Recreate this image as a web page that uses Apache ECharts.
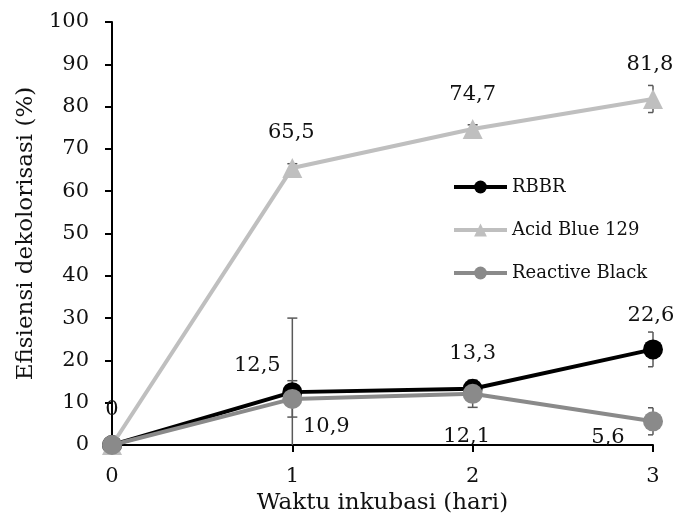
<!DOCTYPE html>
<html>
<head>
<meta charset="utf-8">
<script src="https://cdn.jsdelivr.net/npm/echarts@6/dist/echarts.min.js"></script>
<style>html,body{margin:0;padding:0;background:#fff;}#c{width:678px;height:524px;}</style>
</head>
<body>
<div id="c"></div>
<script>
var days = [0, 1, 2, 3];
var xTicks = ['0', '1', '2', '3'];
var rbbr = [0, 12.5, 13.3, 22.6];
var rbbrErr = [0, 17.5, 1.0, 4.1];
var acidBlue = [0, 65.5, 74.7, 81.8];
var acidBlueErr = [0, 1.0, 1.0, 3.2];
var reactive = [0, 10.9, 12.1, 5.6];
var reactiveErr = [0, 4.3, 3.2, 3.2];
var names = ['RBBR', 'Acid Blue 129', 'Reactive Black'];
var colors = ['#000000', '#bfbfbf', '#8a8a8a'];

var FONT = 'DejaVu Serif';
var TXT = '#111111';
var rbbrOff = [null, [-35, -27], [0, -35], [-2, -34]];
var acidOff = [[0, -35], [-1, -35], [0, -34], [-3, -34]];
var reactOff = [null, [34, 28], [-6, 43], [-45, 16]];

function fmt(v) { return String(v).replace('.', ','); }

function buildData(vals, offs) {
  return days.map(function (d, i) {
    var item = { value: [d, vals[i]] };
    if (offs[i]) {
      item.label = { show: true, position: 'inside', offset: offs[i] };
    } else {
      item.label = { show: false };
    }
    return item;
  });
}
function errData(vals, errs) {
  return days.map(function (d, i) { return [d, vals[i], errs[i]]; });
}

function renderErr(params, api) {
  var x = api.value(0), y = api.value(1), e = api.value(2);
  if (!e) return null;
  var hi = api.coord([x, y + e]);
  var lo = api.coord([x, y - e]);
  var cs = params.coordSys;
  var xmax = cs.x + cs.width;
  var ymax = cs.y + cs.height;
  if (lo[1] > ymax) lo[1] = ymax;
  var w = 5;
  var style = { stroke: '#595959', lineWidth: 1.5 };
  var children = [
    { type: 'line', shape: { x1: hi[0], y1: hi[1], x2: lo[0], y2: lo[1] }, style: style },
    { type: 'line', shape: { x1: hi[0] - w, y1: hi[1], x2: Math.min(hi[0] + w, xmax), y2: hi[1] }, style: style }
  ];
  if (y - e >= 0) {
    children.push({ type: 'line', shape: { x1: lo[0] - w, y1: lo[1], x2: Math.min(lo[0] + w, xmax), y2: lo[1] }, style: style });
  }
  return { type: 'group', children: children };
}

var labelStyle = {
  fontFamily: FONT, fontSize: 21, color: TXT,
  align: 'center', verticalAlign: 'middle',
  formatter: function (p) { return fmt(p.value[1]); }
};

function lineSeries(idx, vals, offs, symbol, size) {
  return {
    name: names[idx], type: 'line', data: buildData(vals, offs),
    symbol: symbol, symbolSize: size, showSymbol: true,
    itemStyle: { color: colors[idx] },
    lineStyle: { color: colors[idx], width: 4 },
    label: labelStyle,
    z: 3 + idx
  };
}

var chart = echarts.init(document.getElementById('c'), null, { renderer: 'canvas' });
chart.setOption({
  animation: false,
  backgroundColor: '#ffffff',
  textStyle: { fontFamily: FONT },
  grid: { left: 112, right: 25, top: 22, bottom: 79, containLabel: false, outerBoundsMode: 'none' },
  legend: {
    data: names, orient: 'vertical', left: 447, top: 173,
    itemWidth: 53, itemHeight: 16, itemGap: 25,
    lineStyle: { width: 4 },
    textStyle: { fontFamily: FONT, fontSize: 18, color: TXT }
  },
  xAxis: {
    type: 'value', min: 0, max: 3, interval: 1,
    name: 'Waktu inkubasi (hari)', nameLocation: 'middle', nameGap: 36,
    nameTextStyle: { fontFamily: FONT, fontSize: 23, color: TXT },
    axisLine: { show: true, lineStyle: { color: '#000', width: 2 } },
    axisTick: { show: true, length: 7, lineStyle: { color: '#000', width: 2 } },
    axisLabel: { fontFamily: FONT, fontSize: 21, color: TXT, margin: 21,
      formatter: function (v) { return xTicks[v]; } },
    splitLine: { show: false }
  },
  yAxis: {
    type: 'value', min: 0, max: 100, interval: 10,
    name: 'Efisiensi dekolorisasi (%)', nameLocation: 'middle', nameGap: 72, nameRotate: 90,
    nameTextStyle: { fontFamily: FONT, fontSize: 23, color: TXT },
    axisLine: { show: true, lineStyle: { color: '#000', width: 2 } },
    axisTick: { show: true, length: 7, lineStyle: { color: '#000', width: 2 } },
    axisLabel: { fontFamily: FONT, fontSize: 21, color: TXT, margin: 23 },
    splitLine: { show: false }
  },
  series: [
    { type: 'custom', renderItem: renderErr, data: errData(rbbr, rbbrErr), z: 1, silent: true },
    { type: 'custom', renderItem: renderErr, data: errData(acidBlue, acidBlueErr), z: 1, silent: true },
    { type: 'custom', renderItem: renderErr, data: errData(reactive, reactiveErr), z: 1, silent: true },
    lineSeries(0, rbbr, rbbrOff, 'circle', 20),
    lineSeries(1, acidBlue, acidOff, 'triangle', 20),
    lineSeries(2, reactive, reactOff, 'circle', 20)
  ]
});
</script>
</body>
</html>
